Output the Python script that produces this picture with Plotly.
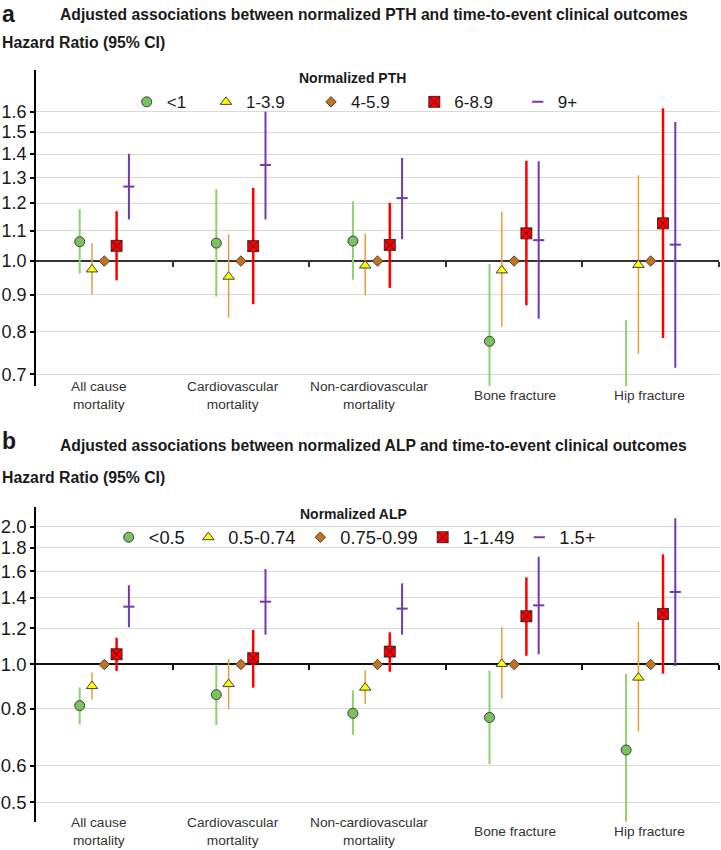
import math
import plotly.graph_objects as go

# ---------------- data ----------------
categories = ["All cause<br>mortality", "Cardiovascular<br>mortality",
              "Non-cardiovascular<br>mortality", "Bone fracture", "Hip fracture"]

# Panel a: normalized PTH groups
pth_groups = ["<1", "1-3.9", "4-5.9", "6-8.9", "9+"]
pth_g1_hr = [1.063, 1.058, 1.065, 0.777, 0.62]
pth_g1_lo = [0.961, 0.894, 0.943, 0.61, 0.47]
pth_g1_hi = [1.178, 1.254, 1.207, 0.991, 0.830]
pth_g2_hr = [0.974, 0.952, 0.986, 0.971, 0.988]
pth_g2_lo = [0.900, 0.837, 0.898, 0.813, 0.747]
pth_g2_hi = [1.058, 1.088, 1.090, 1.168, 1.310]
pth_g3_hr = [1.0, 1.0, 1.0, 1.0, 1.0]
pth_g4_hr = [1.049, 1.048, 1.052, 1.091, 1.126]
pth_g4_lo = [0.941, 0.873, 0.919, 0.870, 0.785]
pth_g4_hi = [1.170, 1.259, 1.201, 1.371, 1.617]
pth_g5_hr = [1.264, 1.353, 1.219, 1.068, 1.053]
pth_g5_lo = [1.140, 1.140, 1.071, 0.834, 0.715]
pth_g5_hi = [1.401, 1.600, 1.383, 1.369, 1.549]
pth_ticks = [0.7, 0.8, 0.9, 1.0, 1.1, 1.2, 1.3, 1.4, 1.5, 1.6]

# Panel b: normalized ALP groups
alp_groups = ["<0.5", "0.5-0.74", "0.75-0.99", "1-1.49", "1.5+"]
alp_g1_hr = [0.813, 0.859, 0.782, 0.766, 0.650]
alp_g1_lo = [0.740, 0.737, 0.701, 0.605, 0.44]
alp_g1_hi = [0.891, 0.999, 0.878, 0.969, 0.953]
alp_g2_hr = [0.897, 0.906, 0.890, 1.003, 0.936]
alp_g2_lo = [0.838, 0.798, 0.820, 0.843, 0.713]
alp_g2_hi = [0.961, 1.028, 0.971, 1.206, 1.241]
alp_g3_hr = [1.0, 1.0, 1.0, 1.0, 1.0]
alp_g4_hr = [1.053, 1.032, 1.067, 1.275, 1.290]
alp_g4_lo = [0.968, 0.890, 0.964, 1.045, 0.955]
alp_g4_hi = [1.144, 1.190, 1.176, 1.551, 1.742]
alp_g5_hr = [1.338, 1.372, 1.325, 1.347, 1.441]
alp_g5_lo = [1.206, 1.162, 1.162, 1.053, 0.992]
alp_g5_hi = [1.491, 1.618, 1.505, 1.721, 2.089]
alp_ticks = [0.5, 0.6, 0.8, 1.0, 1.2, 1.4, 1.6, 1.8, 2.0]

# ---------------- layout constants ----------------
W, H = 721, 850
PL, PR = 36, 719
A_TOP, A_BOT = 70, 386
B_TOP, B_BOT = 506.7, 821.7
A_RANGE = (0.675, 1.824)
B_RANGE = (0.453, 2.214)
FONT = "Liberation Sans, Arial, sans-serif"
TXT = "#1a1a1a"

STYLES = [
    dict(symbol="circle", size=10, color="#79c35f", lc="#404040", lw=1, err="#8fd16f", ew=2, dx=-0.18),
    dict(symbol="triangle-up", size=10, color="#ffff00", lc="#404040", lw=1, err="#e99a3c", ew=1.5, dx=-0.09),
    dict(symbol="diamond", size=8, color="#c6731c", lc="#404040", lw=1, err=None, ew=0, dx=0.0),
    dict(symbol="square-x", size=11, color="#ff0000", lc="#1a1a1a", lw=0.8, err="#ff0000", ew=2.5, dx=0.09),
    dict(symbol="line-ew", size=8, color="#7537ad", lc="#7537ad", lw=2, err="#7537ad", ew=2, dx=0.18),
]

A_LEG_SYM = [150.7, 230, 335, 438.3, 541.7]
B_LEG_SYM = [132.7, 212.3, 324.3, 446.7, 543.3]
A_LEG_Y, B_LEG_Y = 102.3, 537.3
A_LEG_FS, B_LEG_FS = 17, 18.3
LABEL_XSHIFT = [-5, -8, -9, 1, -1]

fig = go.Figure()


def add_panel(xa, ya, groups, hrs, los, his, leg_start, leg_sym, leg_y, leg_fs):
    for k, st in enumerate(STYLES):
        hr = hrs[k]
        xs = [i + st["dx"] for i in range(len(categories))]
        err = None
        if los[k] is not None:
            err = dict(type="data", symmetric=False,
                       array=[h - v for h, v in zip(his[k], hr)],
                       arrayminus=[v - l for v, l in zip(hr, los[k])],
                       color=st["err"], thickness=st["ew"], width=0)
        lid = "legend" if leg_start + k == 1 else "legend%d" % (leg_start + k)
        fig.add_trace(go.Scatter(
            x=xs, y=hr, mode="markers", name=groups[k],
            xaxis=xa, yaxis=ya, legend=lid,
            marker=dict(symbol=st["symbol"], size=st["size"], color=st["color"],
                        line=dict(color=st["lc"], width=st["lw"])),
            error_y=err, hoverinfo="skip"))
        fig.layout[lid] = dict(
            x=(leg_sym[k] - 24) / W, xanchor="left",
            y=1 - leg_y / H, yanchor="middle",
            orientation="h", bgcolor="rgba(0,0,0,0)", borderwidth=0,
            font=dict(family=FONT, size=leg_fs, color=TXT))


add_panel("x", "y", pth_groups,
          [pth_g1_hr, pth_g2_hr, pth_g3_hr, pth_g4_hr, pth_g5_hr],
          [pth_g1_lo, pth_g2_lo, None, pth_g4_lo, pth_g5_lo],
          [pth_g1_hi, pth_g2_hi, None, pth_g4_hi, pth_g5_hi],
          1, A_LEG_SYM, A_LEG_Y, A_LEG_FS)
add_panel("x2", "y2", alp_groups,
          [alp_g1_hr, alp_g2_hr, alp_g3_hr, alp_g4_hr, alp_g5_hr],
          [alp_g1_lo, alp_g2_lo, None, alp_g4_lo, alp_g5_lo],
          [alp_g1_hi, alp_g2_hi, None, alp_g4_hi, alp_g5_hi],
          6, B_LEG_SYM, B_LEG_Y, B_LEG_FS)

# dummy traces to host the reference-line axes
for xa, ya in (("x3", "y"), ("x4", "y2")):
    fig.add_trace(go.Scatter(x=[None], y=[None], xaxis=xa, yaxis=ya,
                             showlegend=False, hoverinfo="skip"))

xdom = [PL / W, PR / W]
a_dom = [1 - A_BOT / H, 1 - A_TOP / H]
b_dom = [1 - B_BOT / H, 1 - B_TOP / H]
xr = [-0.5, len(categories) - 0.5]
bounds = [i + 0.5 for i in range(len(categories))]


def one_pos(dom, rng):
    lo, hi = math.log10(rng[0]), math.log10(rng[1])
    return dom[0] + (0 - lo) / (hi - lo) * (dom[1] - dom[0])


def yaxis(dom, rng, ticks, anchor, fs):
    return dict(domain=dom, anchor=anchor, type="log",
                range=[math.log10(rng[0]), math.log10(rng[1])],
                tickmode="array", tickvals=ticks, ticktext=["%.1f" % t for t in ticks],
                ticks="outside", ticklen=4, tickwidth=1.5, tickcolor="#000",
                showline=True, linecolor="#000", linewidth=1.7,
                showgrid=True, gridcolor="#d9d9d9", gridwidth=1, zeroline=False,
                tickfont=dict(family=FONT, size=fs, color=TXT))


def xmain(dom, anchor):
    return dict(domain=dom, anchor=anchor, range=xr, showline=False, showgrid=False,
                zeroline=False, showticklabels=False, ticks="")


def xref_line(over, pos, color):
    return dict(overlaying=over, anchor="free", position=pos, range=xr,
                tickmode="array", tickvals=bounds, ticks="outside", ticklen=5,
                tickwidth=1.5, tickcolor=color, showticklabels=False,
                showline=True, linecolor=color, linewidth=2, showgrid=False,
                zeroline=False, layer="below traces")


fig.update_layout(
    width=W, height=H, autosize=False,
    margin=dict(l=0, r=0, t=0, b=0),
    paper_bgcolor="white", plot_bgcolor="white",
    font=dict(family=FONT, color=TXT),
    showlegend=True,
    xaxis=xmain(xdom, "y"), yaxis=yaxis(a_dom, A_RANGE, pth_ticks, "x", 18),
    xaxis2=xmain(xdom, "y2"), yaxis2=yaxis(b_dom, B_RANGE, alp_ticks, "x2", 18.5),
    xaxis3=xref_line("x", one_pos(a_dom, A_RANGE), "#333333"),
    xaxis4=xref_line("x2", one_pos(b_dom, B_RANGE), "#111111"),
)

ann = []


def txt(text, x, y, size, bold=False, xanchor="left", color=TXT):
    ann.append(dict(text="<b>%s</b>" % text if bold else text, x=x / W, y=1 - y / H,
                    xref="paper", yref="paper", xanchor=xanchor, yanchor="middle",
                    showarrow=False, font=dict(family=FONT, size=size, color=color)))


txt("a", 0, 14, 23, True)
txt("Adjusted associations between normalized PTH and time-to-event clinical outcomes", 58, 14, 15.7, True)
txt("Hazard Ratio (95% CI)", 0, 42, 15.8, True)
txt("Normalized PTH", 352.5, 78.3, 14, True, "center")
txt("b", 0, 441, 23, True)
txt("Adjusted associations between normalized ALP and time-to-event clinical outcomes", 58, 446, 15.7, True)
txt("Hazard Ratio (95% CI)", 0, 477, 15.8, True)
txt("Normalized ALP", 353, 514, 14, True, "center")

for xa, bot in (("x", A_BOT), ("x2", B_BOT)):
    for i, c in enumerate(categories):
        ann.append(dict(text=c, x=i, y=1 - (bot + 10) / H, xref=xa, yref="paper",
                        xanchor="center", yanchor="middle", xshift=LABEL_XSHIFT[i],
                        showarrow=False, font=dict(family=FONT, size=13.7, color="#333333")))

fig.update_layout(annotations=ann)

fig.write_html("out.html", config={"displayModeBar": False},
               post_script="document.body.style.margin='0px';")
